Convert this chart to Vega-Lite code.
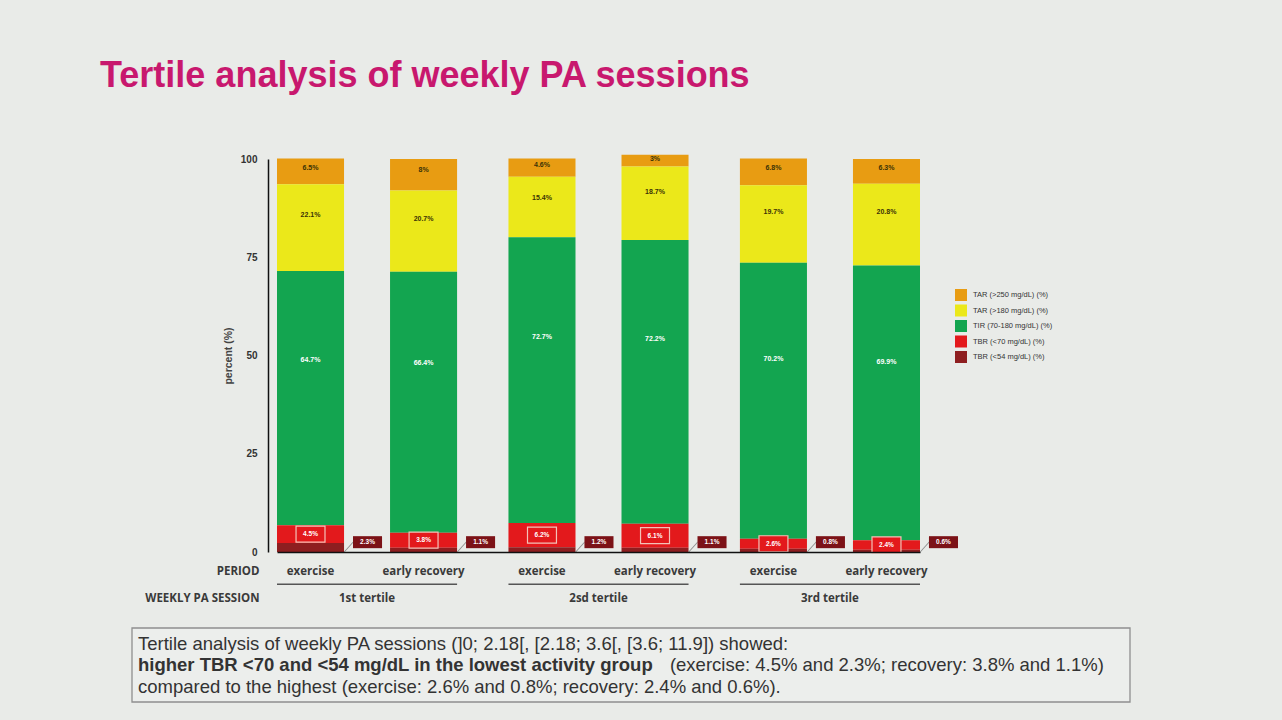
{
  "$schema": "https://vega.github.io/schema/vega-lite/v6.json",
  "width": 692,
  "height": 393,
  "autosize": "none",
  "padding": {"left": 268, "top": 159, "right": 322, "bottom": 168},
  "background": "#e9ebe8",
  "title": {
    "text": "Tertile analysis of weekly PA sessions",
    "anchor": "start",
    "frame": "group",
    "dx": -168,
    "offset": 31,
    "baseline": "alphabetic",
    "font": "Liberation Sans",
    "fontSize": 36,
    "fontWeight": "bold",
    "color": "#c8186e"
  },
  "config": {"view": {"stroke": null}},
  "datasets": {
    "glucose": [
      {"tertile": "1st tertile", "period": "exercise", "zone": "TAR (>250 mg/dL) (%)", "pct": 6.5},
      {"tertile": "1st tertile", "period": "exercise", "zone": "TAR (>180 mg/dL) (%)", "pct": 22.1},
      {"tertile": "1st tertile", "period": "exercise", "zone": "TIR (70-180 mg/dL) (%)", "pct": 64.7},
      {"tertile": "1st tertile", "period": "exercise", "zone": "TBR (<70 mg/dL) (%)", "pct": 4.5},
      {"tertile": "1st tertile", "period": "exercise", "zone": "TBR (<54 mg/dL) (%)", "pct": 2.3},
      {"tertile": "1st tertile", "period": "early recovery", "zone": "TAR (>250 mg/dL) (%)", "pct": 8},
      {"tertile": "1st tertile", "period": "early recovery", "zone": "TAR (>180 mg/dL) (%)", "pct": 20.7},
      {"tertile": "1st tertile", "period": "early recovery", "zone": "TIR (70-180 mg/dL) (%)", "pct": 66.4},
      {"tertile": "1st tertile", "period": "early recovery", "zone": "TBR (<70 mg/dL) (%)", "pct": 3.8},
      {"tertile": "1st tertile", "period": "early recovery", "zone": "TBR (<54 mg/dL) (%)", "pct": 1.1},
      {"tertile": "2sd tertile", "period": "exercise", "zone": "TAR (>250 mg/dL) (%)", "pct": 4.6},
      {"tertile": "2sd tertile", "period": "exercise", "zone": "TAR (>180 mg/dL) (%)", "pct": 15.4},
      {"tertile": "2sd tertile", "period": "exercise", "zone": "TIR (70-180 mg/dL) (%)", "pct": 72.7},
      {"tertile": "2sd tertile", "period": "exercise", "zone": "TBR (<70 mg/dL) (%)", "pct": 6.2},
      {"tertile": "2sd tertile", "period": "exercise", "zone": "TBR (<54 mg/dL) (%)", "pct": 1.2},
      {"tertile": "2sd tertile", "period": "early recovery", "zone": "TAR (>250 mg/dL) (%)", "pct": 3},
      {"tertile": "2sd tertile", "period": "early recovery", "zone": "TAR (>180 mg/dL) (%)", "pct": 18.7},
      {"tertile": "2sd tertile", "period": "early recovery", "zone": "TIR (70-180 mg/dL) (%)", "pct": 72.2},
      {"tertile": "2sd tertile", "period": "early recovery", "zone": "TBR (<70 mg/dL) (%)", "pct": 6.1},
      {"tertile": "2sd tertile", "period": "early recovery", "zone": "TBR (<54 mg/dL) (%)", "pct": 1.1},
      {"tertile": "3rd tertile", "period": "exercise", "zone": "TAR (>250 mg/dL) (%)", "pct": 6.8},
      {"tertile": "3rd tertile", "period": "exercise", "zone": "TAR (>180 mg/dL) (%)", "pct": 19.7},
      {"tertile": "3rd tertile", "period": "exercise", "zone": "TIR (70-180 mg/dL) (%)", "pct": 70.2},
      {"tertile": "3rd tertile", "period": "exercise", "zone": "TBR (<70 mg/dL) (%)", "pct": 2.6},
      {"tertile": "3rd tertile", "period": "exercise", "zone": "TBR (<54 mg/dL) (%)", "pct": 0.8},
      {"tertile": "3rd tertile", "period": "early recovery", "zone": "TAR (>250 mg/dL) (%)", "pct": 6.3},
      {"tertile": "3rd tertile", "period": "early recovery", "zone": "TAR (>180 mg/dL) (%)", "pct": 20.8},
      {"tertile": "3rd tertile", "period": "early recovery", "zone": "TIR (70-180 mg/dL) (%)", "pct": 69.9},
      {"tertile": "3rd tertile", "period": "early recovery", "zone": "TBR (<70 mg/dL) (%)", "pct": 2.4},
      {"tertile": "3rd tertile", "period": "early recovery", "zone": "TBR (<54 mg/dL) (%)", "pct": 0.6}
    ],
    "note": [
      {"line": 1, "part": "lead", "strong": false, "text": "Tertile analysis of weekly PA sessions (]0; 2.18[, [2.18; 3.6[, [3.6; 11.9]) showed:"},
      {"line": 2, "part": "lead", "strong": true, "text": "higher TBR <70 and <54 mg/dL in the lowest activity group"},
      {"line": 2, "part": "tail", "strong": false, "text": "(exercise: 4.5% and 2.3%; recovery: 3.8% and 1.1%)"},
      {"line": 3, "part": "lead", "strong": false, "text": "compared to the highest (exercise: 2.6% and 0.8%; recovery: 2.4% and 0.6%)."}
    ]
  },
  "resolve": {
    "scale": {"x": "independent", "y": "independent"},
    "axis": {"x": "independent", "y": "independent"}
  },
  "layer": [
    {
      "data": {"name": "glucose"},
      "transform": [
        {"calculate": "indexof(['TBR (<54 mg/dL) (%)', 'TBR (<70 mg/dL) (%)', 'TIR (70-180 mg/dL) (%)', 'TAR (>180 mg/dL) (%)', 'TAR (>250 mg/dL) (%)'], datum.zone)", "as": "k"},
        {"stack": "pct", "groupby": ["tertile", "period"], "sort": [{"field": "k", "order": "ascending"}], "as": ["y0", "y1"]},
        {"calculate": "datum.k == 1 ? (datum.y0 + datum.y1) / 2 : datum.y1 - 0.35 * (datum.y1 - datum.y0)", "as": "ylab"},
        {"calculate": "datum.pct + '%'", "as": "lab"}
      ],
      "layer": [
        {
          "mark": {"type": "bar"},
          "encoding": {
            "x": {
              "field": "tertile",
              "type": "nominal",
              "scale": {"domain": ["1st tertile", "2sd tertile", "3rd tertile"], "range": [9, 652], "paddingInner": 0.222, "paddingOuter": 0},
              "axis": {
                "title": ["PERIOD", "WEEKLY PA SESSION"],
                "zindex": 1,
                "domainColor": "#111111",
                "domainWidth": 1.5,
                "ticks": false,
                "labelAngle": 0,
                "labelPadding": 40,
                "labelFont": "Open Sans",
                "labelFontSize": 11.5,
                "labelFontWeight": "bold",
                "labelColor": "#3a3a3a",
                "titleFont": "Open Sans",
                "titleFontSize": 11.5,
                "titleFontWeight": "bold",
                "titleColor": "#3a3a3a",
                "titleAlign": "right",
                "titleBaseline": "top",
                "titleX": -9,
                "titleY": 13,
                "titleLineHeight": 27
              }
            },
            "xOffset": {
              "field": "period",
              "type": "nominal",
              "scale": {"domain": ["exercise", "early recovery"], "paddingInner": 0.407, "paddingOuter": 0}
            },
            "y": {
              "field": "y0",
              "type": "quantitative",
              "scale": {"domain": [0, 100], "nice": false},
              "axis": {
                "values": [0, 25, 50, 75, 100],
                "title": "percent (%)",
                "grid": false,
                "ticks": false,
                "domainColor": "#111111",
                "domainWidth": 1.5,
                "labelPadding": 11,
                "labelFont": "Liberation Sans",
                "labelFontSize": 10,
                "labelFontWeight": "bold",
                "labelColor": "#333333",
                "titleFont": "Liberation Sans",
                "titleFontSize": 10.5,
                "titleFontWeight": "bold",
                "titleColor": "#444444",
                "titlePadding": 7
              }
            },
            "y2": {"field": "y1"},
            "color": {
              "field": "zone",
              "type": "nominal",
              "scale": {
                "domain": ["TAR (>250 mg/dL) (%)", "TAR (>180 mg/dL) (%)", "TIR (70-180 mg/dL) (%)", "TBR (<70 mg/dL) (%)", "TBR (<54 mg/dL) (%)"],
                "range": ["#e89c12", "#ebe81a", "#13a550", "#e3191c", "#8e1e20"]
              },
              "legend": {
                "orient": "none",
                "legendX": 687,
                "legendY": 130,
                "title": null,
                "symbolType": "square",
                "symbolSize": 144,
                "symbolStrokeWidth": 0,
                "symbolOpacity": 1,
                "labelFont": "Liberation Sans",
                "labelFontSize": 7.5,
                "labelColor": "#333333",
                "rowPadding": 3.5,
                "labelOffset": 6
              }
            }
          }
        },
        {
          "transform": [{"filter": "datum.k >= 3"}],
          "mark": {"type": "text", "font": "Liberation Sans", "fontSize": 7, "fontWeight": "bold", "fill": "#3b3306", "baseline": "middle"},
          "encoding": {
            "x": {"field": "tertile", "type": "nominal"},
            "xOffset": {"field": "period", "type": "nominal"},
            "y": {"field": "ylab", "type": "quantitative"},
            "text": {"field": "lab"}
          }
        },
        {
          "transform": [{"filter": "datum.k == 2"}],
          "mark": {"type": "text", "font": "Liberation Sans", "fontSize": 7, "fontWeight": "bold", "fill": "#ffffff", "baseline": "middle"},
          "encoding": {
            "x": {"field": "tertile", "type": "nominal"},
            "xOffset": {"field": "period", "type": "nominal"},
            "y": {"field": "ylab", "type": "quantitative"},
            "text": {"field": "lab"}
          }
        },
        {
          "transform": [{"filter": "datum.k == 1"}],
          "mark": {"type": "point", "shape": "M-1.81,-1H1.81V1H-1.81Z", "size": 256, "filled": true, "fill": "#e3191c", "stroke": "#f3c2b8", "strokeWidth": 1.2, "opacity": 1},
          "encoding": {
            "x": {"field": "tertile", "type": "nominal"},
            "xOffset": {"field": "period", "type": "nominal"},
            "y": {"field": "ylab", "type": "quantitative"}
          }
        },
        {
          "transform": [{"filter": "datum.k == 1"}],
          "mark": {"type": "text", "font": "Liberation Sans", "fontSize": 6.5, "fontWeight": "bold", "fill": "#ffffff", "baseline": "middle"},
          "encoding": {
            "x": {"field": "tertile", "type": "nominal"},
            "xOffset": {"field": "period", "type": "nominal"},
            "y": {"field": "ylab", "type": "quantitative"},
            "text": {"field": "lab"}
          }
        },
        {
          "transform": [{"filter": "datum.k == 0"}],
          "mark": {"type": "point", "shape": "M5.6,1.55L7.1,-0.1L7.1,0.1L5.6,1.75Z", "size": 144, "filled": true, "fill": "#8c8c8c", "strokeWidth": 0, "opacity": 1},
          "encoding": {
            "x": {"field": "tertile", "type": "nominal"},
            "xOffset": {"field": "period", "type": "nominal"},
            "y": {"datum": 2.5, "type": "quantitative"}
          }
        },
        {
          "transform": [{"filter": "datum.k == 0"}],
          "mark": {"type": "point", "shape": "M7.08,-1H11.92V1H7.08Z", "size": 144, "filled": true, "fill": "#7c1217", "strokeWidth": 0, "opacity": 1},
          "encoding": {
            "x": {"field": "tertile", "type": "nominal"},
            "xOffset": {"field": "period", "type": "nominal"},
            "y": {"datum": 2.5, "type": "quantitative"}
          }
        },
        {
          "transform": [{"filter": "datum.k == 0"}],
          "mark": {"type": "text", "font": "Liberation Sans", "fontSize": 6.5, "fontWeight": "bold", "fill": "#ffffff", "baseline": "middle", "dx": 57},
          "encoding": {
            "x": {"field": "tertile", "type": "nominal"},
            "xOffset": {"field": "period", "type": "nominal"},
            "y": {"datum": 2.5, "type": "quantitative"},
            "text": {"field": "lab"}
          }
        },
        {
          "transform": [{"filter": "datum.k == 0"}],
          "mark": {"type": "text", "font": "Open Sans", "fontSize": 11.5, "fontWeight": "bold", "fill": "#3a3a3a", "baseline": "middle", "dy": 20},
          "encoding": {
            "x": {"field": "tertile", "type": "nominal"},
            "xOffset": {"field": "period", "type": "nominal"},
            "y": {"datum": 0, "type": "quantitative"},
            "text": {"field": "period"}
          }
        },
        {
          "transform": [{"filter": "datum.k == 0 && datum.period == 'exercise'"}],
          "mark": {"type": "bar", "color": "#555555"},
          "encoding": {
            "x": {"field": "tertile", "type": "nominal"},
            "y": {"datum": -8.0, "type": "quantitative"},
            "y2": {"datum": -8.4}
          }
        }
      ]
    },
    {
      "data": {"name": "note"},
      "layer": [
        {
          "transform": [{"filter": "datum.line == 1"}],
          "mark": {"type": "rect", "fill": "#eceeec", "stroke": "#8f8f8f", "strokeWidth": 1.3},
          "encoding": {
            "x": {"datum": 0, "type": "quantitative", "scale": {"domain": [0, 1], "range": [-136, 862]}, "axis": null},
            "x2": {"datum": 1},
            "y": {"datum": 0.28, "type": "quantitative", "scale": {"domain": [0.28, 3.72], "range": [463, 549]}, "axis": null},
            "y2": {"datum": 3.72}
          }
        },
        {
          "transform": [{"filter": "datum.part == 'lead' && !datum.strong"}],
          "mark": {"type": "text", "align": "left", "baseline": "middle", "dx": 6, "font": "Liberation Sans", "fontSize": 18.5, "fill": "#333333"},
          "encoding": {
            "x": {"datum": 0, "type": "quantitative"},
            "y": {"field": "line", "type": "quantitative"},
            "text": {"field": "text"}
          }
        },
        {
          "transform": [{"filter": "datum.strong"}],
          "mark": {"type": "text", "align": "left", "baseline": "middle", "dx": 6, "font": "Liberation Sans", "fontSize": 18.5, "fontWeight": "bold", "fill": "#333333"},
          "encoding": {
            "x": {"datum": 0, "type": "quantitative"},
            "y": {"field": "line", "type": "quantitative"},
            "text": {"field": "text"}
          }
        },
        {
          "transform": [{"filter": "datum.part == 'tail'"}],
          "mark": {"type": "text", "align": "left", "baseline": "middle", "font": "Liberation Sans", "fontSize": 18.5, "fill": "#333333"},
          "encoding": {
            "x": {"datum": 0.539, "type": "quantitative"},
            "y": {"field": "line", "type": "quantitative"},
            "text": {"field": "text"}
          }
        }
      ]
    }
  ]
}
